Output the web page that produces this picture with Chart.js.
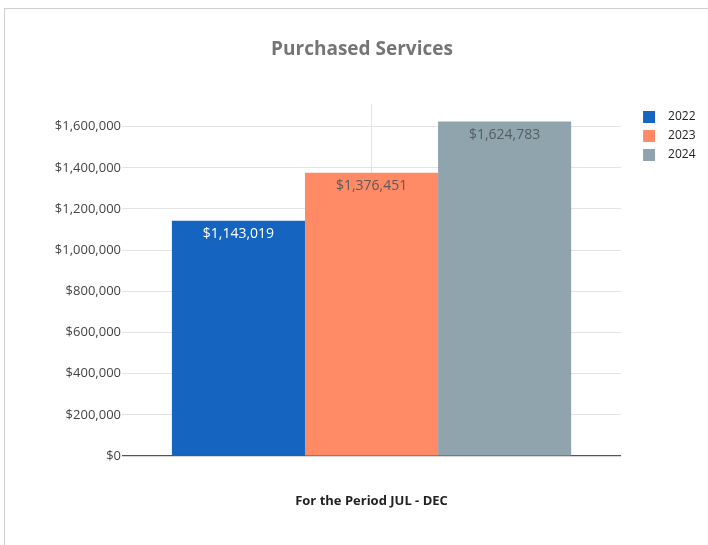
<!DOCTYPE html>
<html>
<head>
<meta charset="utf-8">
<title>Purchased Services</title>
<script src="https://cdn.jsdelivr.net/npm/chart.js@4.4.1/dist/chart.umd.min.js"></script>
<style>
  html, body { margin: 0; padding: 0; background: #ffffff; }
  #wrap { position: relative; width: 708px; height: 545px; overflow: hidden; }
  #frame {
    position: absolute; left: 4px; top: 8px; right: -2px; bottom: -2px;
    border-top: 1px solid #cfcfcf; border-left: 1px solid #cfcfcf;
    pointer-events: none;
  }
  canvas { position: absolute; left: 0; top: 0; }
</style>
</head>
<body>
<div id="wrap">
  <canvas id="chart" width="708" height="545"></canvas>
  <div id="frame"></div>
</div>
<script>
// Purchased services spend, July through December, by fiscal year
const categories = ['JUL - DEC'];
const years = ['2022', '2023', '2024'];
const spend2022 = [1143019];
const spend2023 = [1376451];
const spend2024 = [1624783];
const yTicks = [0, 200000, 400000, 600000, 800000, 1000000, 1200000, 1400000, 1600000];
const yMax = 1710000;

const seriesColors = ['#1565C0', '#FF8A65', '#90A4AE'];
const labelColors = ['#ffffff', '#5b5b5b', '#555d61'];
const FONT = "'Open Sans', 'Noto Sans', sans-serif";

const money = v => '$' + Number(v).toLocaleString('en-US');

// Legend swatch: a 12px square with space before it so the text sits further right
function swatch(color) {
  const c = document.createElement('canvas');
  c.width = 34; c.height = 12;
  const g = c.getContext('2d');
  g.fillStyle = color;
  g.fillRect(15, 0, 12, 12);
  return c;
}

// Value labels printed just inside the top of each bar
const barValueLabels = {
  id: 'barValueLabels',
  afterDatasetsDraw(chart) {
    const ctx = chart.ctx;
    ctx.save();
    ctx.font = '14px ' + FONT;
    ctx.textAlign = 'center';
    ctx.textBaseline = 'middle';
    chart.data.datasets.forEach((ds, i) => {
      const meta = chart.getDatasetMeta(i);
      meta.data.forEach((bar, j) => {
        ctx.fillStyle = labelColors[i];
        ctx.fillText(money(ds.data[j]), bar.x, bar.y + 13.5);
      });
    });
    ctx.restore();
  }
};

const seriesValues = [spend2022, spend2023, spend2024];

new Chart(document.getElementById('chart'), {
  type: 'bar',
  data: {
    labels: categories,
    datasets: years.map((y, i) => ({
      label: y,
      data: seriesValues[i],
      backgroundColor: seriesColors[i],
      borderWidth: 0,
      pointStyle: swatch(seriesColors[i]),
      categoryPercentage: 0.8,
      barPercentage: 1.0
    }))
  },
  options: {
    responsive: false,
    devicePixelRatio: 1,
    animation: false,
    layout: { padding: { left: 18.5, right: 2.5, top: 0, bottom: 36.2 } },
    plugins: {
      title: {
        display: true,
        text: 'Purchased Services',
        color: '#757575',
        font: { family: FONT, size: 19, weight: 'bold' },
        padding: { top: 38.6, bottom: 42.6 }
      },
      legend: {
        position: 'right',
        align: 'start',
        fullSize: false,
        labels: {
          usePointStyle: true,
          pointStyleWidth: 34,
          padding: 7,
          color: '#222222',
          font: { family: FONT, size: 12 }
        }
      },
      tooltip: { enabled: false }
    },
    scales: {
      x: {
        ticks: { display: false },
        border: { display: false },
        grid: {
          display: true,
          offset: false,
          drawTicks: false,
          color: '#e3e3e3'
        },
        title: {
          display: true,
          text: 'For the Period JUL - DEC',
          color: '#222222',
          font: { family: FONT, size: 13, weight: 'bold' },
          padding: { top: 37.2, bottom: 0 }
        }
      },
      y: {
        min: 0,
        max: yMax,
        afterBuildTicks(scale) {
          scale.ticks = yTicks.map(v => ({ value: v }));
        },
        afterFit(scale) { scale.width = 103.5; },
        border: { display: false },
        grid: {
          drawTicks: false,
          color: c => (c.tick && c.tick.value === 0) ? '#555555' : '#e3e3e3',
          lineWidth: c => (c.tick && c.tick.value === 0) ? 1.2 : 1
        },
        ticks: {
          padding: 1,
          color: '#444444',
          font: { family: FONT, size: 13 },
          callback: v => money(v)
        }
      }
    }
  },
  plugins: [barValueLabels]
});
</script>
</body>
</html>
